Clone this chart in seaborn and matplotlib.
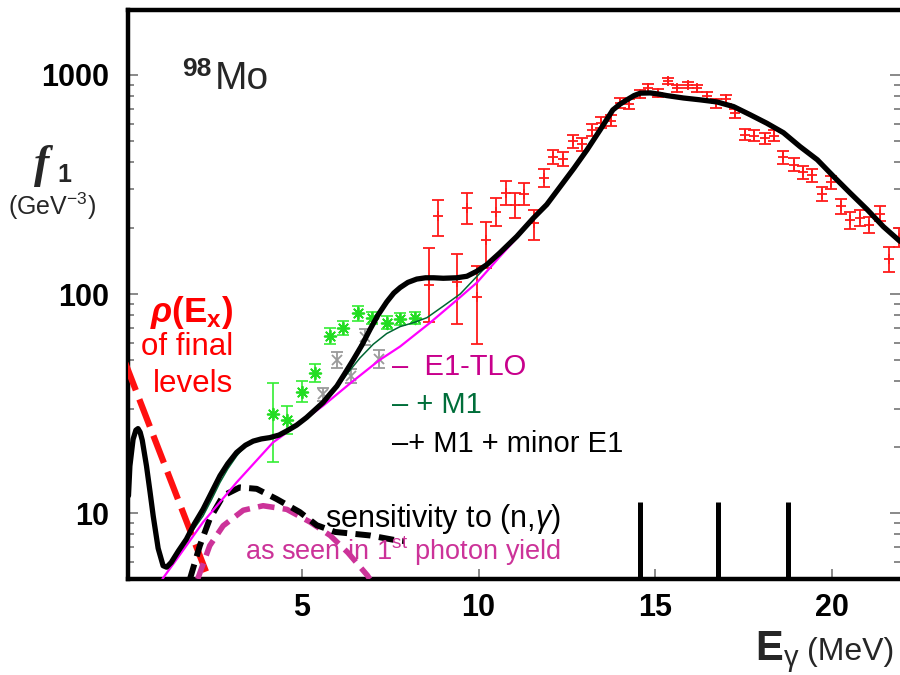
import matplotlib
matplotlib.use("Agg")
import matplotlib.pyplot as plt
import matplotlib.ticker as mticker
import numpy as np
import seaborn as sns

# ---------------- data ----------------
# total model: E1-TLO + M1 + minor E1 (thick black)
total_x = [0.09, 0.13, 0.22, 0.30, 0.36, 0.42, 0.48, 0.60, 0.70, 0.79, 0.93, 1.07, 1.17, 1.30,
           1.50, 1.73, 1.95, 2.20, 2.45, 2.68, 2.90, 3.15, 3.40, 3.62, 3.85, 4.09, 4.35, 4.57,
           4.85, 5.13, 5.35, 5.60, 5.80, 5.99, 6.20, 6.45, 6.70, 6.93, 7.15, 7.40, 7.60, 7.78,
           8.00, 8.25, 8.50, 8.73, 9.00, 9.38, 9.67, 9.95, 10.23, 10.60, 11.08, 11.55, 11.93,
           12.31, 12.70, 13.07, 13.44, 13.80, 14.00, 14.20, 14.40, 14.58, 14.86, 15.10, 15.33,
           15.80, 16.27, 16.75, 17.22, 17.69, 18.16, 18.63, 19.10, 19.59, 20.05, 20.52, 21.00,
           21.46, 21.93]
total_y = [12.0, 16.4, 21.7, 23.9, 24.3, 23.4, 21.5, 16.4, 12.5, 9.7, 6.9, 5.75, 5.66, 5.95,
           6.7, 7.6, 8.9, 10.4, 12.5, 14.8, 16.8, 18.9, 20.4, 21.3, 21.8, 22.1, 22.7, 23.7,
           25.2, 27.3, 29.4, 32, 35, 38, 43, 50, 58.5, 69, 80, 92, 101, 107,
           113, 117, 118.6, 118.6, 118, 118.6, 120.5, 127, 136, 154, 183, 222, 256,
           309, 375, 455, 561, 692, 735, 770, 805, 826, 828, 818, 805,
           785, 770, 753, 717, 658, 602, 545, 471, 410, 344, 289, 243,
           203, 174]

# E1-TLO + M1 (thin dark green)
m1_x = [1.50, 1.73, 1.95, 2.20, 2.45, 2.68, 2.90, 3.15, 3.43, 3.62, 4.09, 4.57, 5.13, 5.60,
        6.00, 6.27, 6.64, 7.02, 7.40, 7.78, 8.16, 8.54, 9.00, 9.48, 10.13, 10.60, 11.08, 11.55]
m1_y = [6.5, 7.5, 8.5, 9.7, 11.6, 13.8, 15.9, 18.2, 20.6, 21.3, 22.1, 23.7, 27.3, 31.5,
        37.5, 43, 51, 59, 66, 71, 74, 78, 88, 100, 129, 152, 183, 222]

# E1-TLO (magenta)
tlo_x = [1.05, 1.50, 2.20, 3.15, 4.18, 4.57, 5.60, 6.40, 7.20, 7.78, 8.63, 9.39, 9.96, 10.60,
         11.08, 11.55]
tlo_y = [5.0, 6.3, 9.08, 13.8, 21, 23.3, 30.9, 39.5, 50, 57.6, 74, 94, 113, 148, 180, 222]

# level density of final levels (red dashed)
rho_x = [0.0, 2.35]
rho_y = [48.4, 5.07]

# sensitivity to (n,gamma) (black dashed)
sens_x = [1.83, 2.11, 2.39, 2.77, 3.24, 3.72, 4.28, 4.94, 5.42, 5.94, 6.93, 7.69, 7.90]
sens_y = [5.0, 7.1, 9.4, 12.0, 13.1, 12.9, 11.6, 10.1, 8.8, 8.2, 7.9, 7.5, 7.45]

# as seen in first photon yield (pink dashed)
yield_x = [2.05, 2.39, 2.77, 3.34, 3.90, 4.57, 5.23, 5.80, 6.30, 6.85, 6.92]
yield_y = [5.0, 7.1, 8.75, 10.3, 10.8, 10.4, 9.1, 7.9, 6.6, 5.2, 5.0]

# photoneutron data (red)
gdr_x = [8.60, 8.86, 9.40, 9.67, 9.95, 10.21, 10.50, 10.77, 11.03, 11.30, 11.57, 11.84, 12.12,
         12.38, 12.66, 12.92, 13.21, 13.47, 13.75, 14.01, 14.27, 14.56, 14.81, 15.09, 15.36,
         15.63, 15.92, 16.18, 16.46, 16.73, 17.00, 17.27, 17.55, 17.81, 18.10, 18.35, 18.63,
         18.92, 19.18, 19.44, 19.72, 19.99, 20.26, 20.52, 20.79, 21.06, 21.35, 21.61, 21.89]
gdr_y = [110, 226, 113, 247, 97, 176, 237, 289, 256, 286, 211, 338, 422, 414, 497, 483, 561,
         606, 617, 743, 735, 819, 869, 826, 939, 869, 900, 869, 802, 743, 774, 668, 533, 527,
         515, 527, 420, 389, 360, 348, 287, 324, 251, 217, 222, 206, 233, 144, 181]
# error bars in decades (down, up)
gdr_dm = [0.167, 0.087, 0.19, 0.075, 0.217, 0.125, 0.065, 0.053, 0.061, 0.05, 0.076, 0.04, 0.033,
          0.033, 0.03, 0.03, 0.028, 0.025, 0.025, 0.022, 0.022, 0.02, 0.018, 0.018, 0.015,
          0.015, 0.015, 0.017, 0.02, 0.02, 0.02, 0.022, 0.025, 0.025, 0.025, 0.025, 0.028,
          0.03, 0.03, 0.03, 0.032, 0.03, 0.036, 0.04, 0.036, 0.036, 0.035, 0.058, 0.042]
gdr_dp = [0.167, 0.073, 0.13, 0.067, 0.14, 0.082, 0.064, 0.053, 0.051, 0.05, 0.061, 0.04, 0.033,
          0.033, 0.03, 0.03, 0.028, 0.025, 0.025, 0.022, 0.022, 0.02, 0.018, 0.018, 0.015,
          0.015, 0.015, 0.017, 0.02, 0.02, 0.02, 0.022, 0.025, 0.025, 0.025, 0.025, 0.028,
          0.03, 0.03, 0.03, 0.032, 0.03, 0.036, 0.04, 0.036, 0.036, 0.035, 0.058, 0.042]

# low-energy data (green asterisks)
osl_x = [4.19, 4.58, 4.99, 5.37, 5.79, 6.17, 6.60, 6.97, 7.40, 7.78, 8.20]
osl_y = [28.3, 26.6, 35.8, 43.5, 64.3, 69.7, 81.5, 78, 74, 77, 78]
osl_dm = [0.217, 0.063, 0.048, 0.042, 0.038, 0.032, 0.033, 0.028, 0.03, 0.028, 0.028]
osl_dp = [0.14, 0.063, 0.048, 0.042, 0.038, 0.032, 0.033, 0.028, 0.03, 0.028, 0.028]

# grey data (crosses)
gry_x = [5.60, 6.00, 6.39, 6.78, 7.19]
gry_y = [34.8, 49.8, 42.2, 63.8, 50.4]
gry_d = [0.028, 0.036, 0.032, 0.036, 0.04]

# vertical bar markers
bar_x = [14.58, 16.78, 18.77]
bar_top = 11.2

xticks = [5, 10, 15, 20]
yticks = [10, 100, 1000]
yticklabels = ["10", "100", "1000"]

# ---------------- style ----------------
sns.set_theme(style="white")
plt.rcParams["font.family"] = ["Liberation Sans", "DejaVu Sans"]
plt.rcParams["mathtext.fontset"] = "custom"
plt.rcParams["mathtext.rm"] = "Liberation Sans"
plt.rcParams["mathtext.it"] = "Liberation Sans:italic"
plt.rcParams["mathtext.bf"] = "Liberation Sans:bold"
try:
    plt.rcParams["mathtext.bfit"] = "Liberation Sans:italic:bold"
    HAS_BFIT = True
except Exception:
    HAS_BFIT = False
plt.rcParams["lines.scale_dashes"] = False

W, H = 900, 675
fig = plt.figure(figsize=(9, 6.75), dpi=100)
L, R, T, B = 128.3, 900.0, 9.5, 579.0
ax = fig.add_axes([L / W, 1 - B / H, (R - L) / W, (B - T) / H])
ax.set_facecolor("white")


def yerr(y, dm, dp):
    y = np.asarray(y, float)
    return [y - y / 10 ** np.asarray(dm), y * 10 ** np.asarray(dp) - y]


# data points
ax.errorbar(gdr_x, gdr_y, yerr=yerr(gdr_y, gdr_dm, gdr_dp), fmt="+", color="#ff1a1a",
            ms=7, mew=1.3, elinewidth=1.3, capsize=4, capthick=1.3, zorder=2)
ax.errorbar(gry_x, gry_y, yerr=yerr(gry_y, gry_d, gry_d), fmt="x", color="#9a9a9a",
            ms=7, mew=1.3, elinewidth=1.3, capsize=4, capthick=1.3, zorder=2)
ax.errorbar(osl_x, osl_y, yerr=yerr(osl_y, osl_dm, osl_dp), fmt="none", color="#33ee33",
            elinewidth=1.2, capsize=4, capthick=1.2, zorder=2)
sns.scatterplot(x=osl_x, y=osl_y, ax=ax, marker=(8, 2, 0), s=70, color="#22dd22",
                linewidth=1.3, edgecolor="#22dd22", zorder=3, legend=False)

# model curves
sns.lineplot(x=rho_x, y=rho_y, ax=ax, color="#ff1010", linewidth=4.5,
             linestyle=(0, (21, 7)), sort=False, estimator=None, zorder=4)
sns.lineplot(x=yield_x, y=yield_y, ax=ax, color="#cc3399", linewidth=4.0,
             linestyle=(0, (12, 6)), sort=False, estimator=None, zorder=4)
sns.lineplot(x=sens_x, y=sens_y, ax=ax, color="black", linewidth=4.3,
             linestyle=(0, (11, 6)), sort=False, estimator=None, zorder=4)
sns.lineplot(x=tlo_x, y=tlo_y, ax=ax, color="#ff00ff", linewidth=1.6,
             sort=False, estimator=None, zorder=5)
sns.lineplot(x=m1_x, y=m1_y, ax=ax, color="#006633", linewidth=1.1,
             sort=False, estimator=None, zorder=5)
sns.lineplot(x=total_x, y=total_y, ax=ax, color="black", linewidth=3.8,
             sort=False, estimator=None, zorder=6)
for ln in ax.get_lines():
    ln.set_solid_joinstyle("round")
    ln.set_solid_capstyle("round")

ax.set_yscale("log")
ax.set_xlim(0.085, 21.93)
ax.set_ylim(5.0, 1990)
ax.vlines(bar_x, 5.0, bar_top, colors="black", linewidth=3.6, zorder=6)

ax.set_xticks(xticks)
ax.set_xticklabels([str(t) for t in xticks])
ax.set_yticks(yticks)
ax.set_yticklabels(yticklabels)
ax.yaxis.set_minor_locator(mticker.LogLocator(base=10, subs=np.arange(2, 10)))
ax.yaxis.set_minor_formatter(mticker.NullFormatter())
ax.xaxis.set_minor_locator(mticker.NullLocator())
ax.tick_params(axis="both", which="both", direction="in", color="#808080", width=1.3)
ax.tick_params(axis="both", which="major", length=7)
ax.tick_params(axis="both", which="minor", length=4)
ax.tick_params(axis="y", which="both", left=True, right=True, pad=14)
ax.tick_params(axis="x", which="both", bottom=True, top=False, pad=10)
for lbl in ax.get_xticklabels() + ax.get_yticklabels():
    lbl.set_fontweight("bold")
    lbl.set_fontsize(22)
    lbl.set_color("black")
ax.set_xlabel("")
ax.set_ylabel("")

for s in ["left", "bottom", "top"]:
    ax.spines[s].set_visible(True)
    ax.spines[s].set_linewidth(3.2)
    ax.spines[s].set_color("black")
ax.spines["right"].set_visible(False)


def ftext(px, py, s, **kw):
    kw.setdefault("va", "baseline")
    fig.text(px / W, 1 - py / H, s, **kw)


# title
ftext(182, 76, "98", fontsize=19, fontweight="bold")
ftext(215, 89, "Mo", fontsize=28)

# y label
ftext(34, 177, "f", fontsize=33, fontweight="bold", fontstyle="italic",
      family=["Liberation Serif", "DejaVu Serif"])
ftext(57, 182, "1", fontsize=18, fontweight="bold")
ftext(52, 215, r"(GeV$^{\mathrm{-3}}$)", fontsize=18, ha="center")

# x label
ftext(755, 660, r"$\mathbf{E}_{\mathrm{\gamma}}$", fontsize=30)
ftext(807, 660, "(MeV)", fontsize=23)

# rho annotation
rho_txt = r"$\mathbfit{\rho}\mathbf{(E_x)}$" if HAS_BFIT else r"$\rho\mathbf{(E_x)}$"
ftext(233, 322, rho_txt, fontsize=25, color="#ff0000", ha="right")
ftext(233, 355, "of final", fontsize=22.5, color="#ff0000", ha="right")
ftext(233, 392, "levels", fontsize=22.5, color="#ff0000", ha="right")

# legend-like labels
ftext(392, 375, "\u2013  E1-TLO", fontsize=21, color="#c8008c")
ftext(392, 413, "\u2013 + M1", fontsize=21, color="#006e3a")
ftext(392, 452, "\u2013+ M1 + minor E1", fontsize=21, color="black")

# sensitivity annotation
ftext(325, 527, r"sensitivity to (n,$\gamma$)", fontsize=22, color="black")
ftext(245, 560, r"as seen in 1$^{\mathrm{st}}$ photon yield", fontsize=19.5, color="#cc3399")

fig.savefig("out.png", dpi=100, facecolor="white")
